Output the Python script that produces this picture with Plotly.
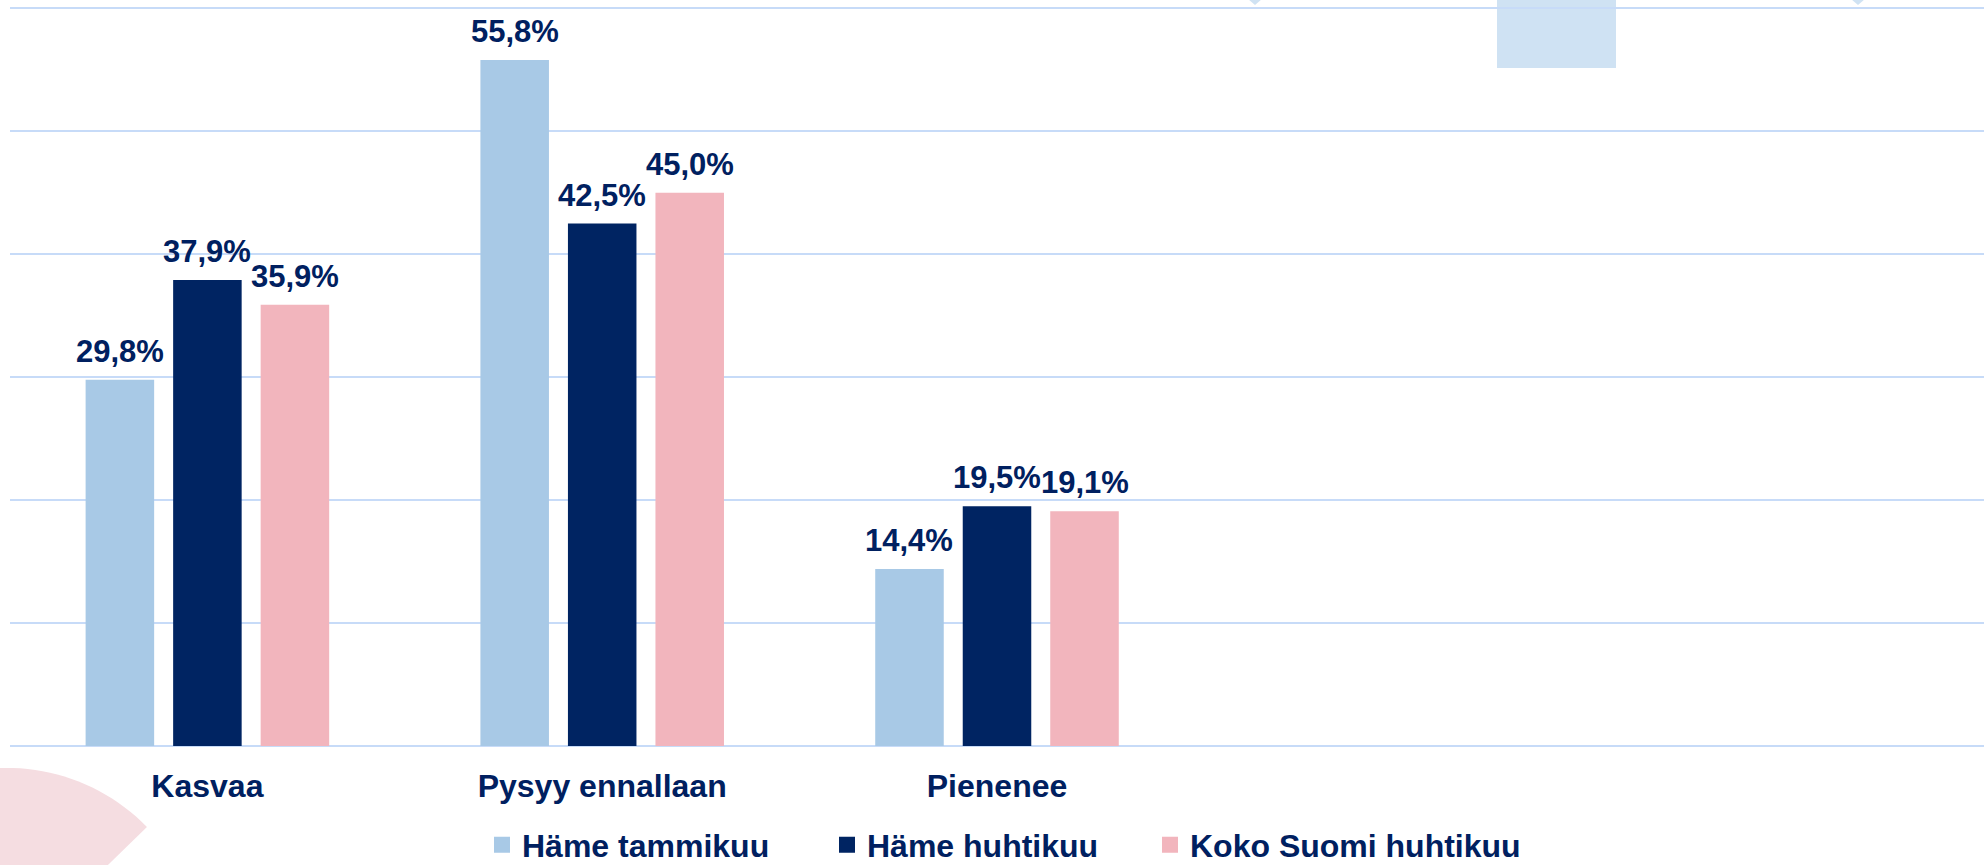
"""Bar chart: expected change, Häme vs whole Finland (percentages)."""

import numpy as np
import plotly.graph_objects as go

# data
categories = ["Kasvaa", "Pysyy ennallaan", "Pienenee"]
series_names = ["Häme tammikuu", "Häme huhtikuu", "Koko Suomi huhtikuu"]
hame_tammikuu = [29.8, 55.8, 14.4]
hame_huhtikuu = [37.9, 42.5, 19.5]
koko_suomi_huhtikuu = [35.9, 45.0, 19.1]
series_values = [hame_tammikuu, hame_huhtikuu, koko_suomi_huhtikuu]

# styles
colors = ["#a8c9e6", "#002462", "#f2b5bd"]
text_color = "#002060"
grid_color = "#c7dbf8"
font_family = "Liberation Sans, Arial, sans-serif"
legend_widths = [300, 278, 330]  # px per legend entry (text part)

W, H = 1984, 865
M_L, M_R, M_T, M_B = 10, 0, 1, 119
BARGAP = 0.335
BARGROUPGAP = 0.217


def px_x(x):
    """pixel x -> paper x"""
    return (x - M_L) / (W - M_L - M_R)


def px_y(y):
    """pixel y -> paper y"""
    return 1 - (y - M_T) / (H - M_T - M_B)


fig = go.Figure()

x_idx = list(range(len(categories)))
for name, vals, col, lw in zip(series_names, series_values, colors,
                               legend_widths):
    fig.add_trace(go.Bar(name=name, x=x_idx, y=vals, marker_color=col,
                         marker_line_width=0, showlegend=False))
    # legend entry with a bigger square than the default bar swatch
    fig.add_trace(go.Scatter(name=name, x=[None], y=[None], mode="markers",
                             legendwidth=lw,
                             marker=dict(symbol="square", size=16, color=col,
                                         line_width=0)))

# value labels above bars
slot = (1 - BARGAP) / len(series_values)
annotations = []
for i, vals in enumerate(series_values):
    off = (i - (len(series_values) - 1) / 2) * slot
    for j, v in enumerate(vals):
        annotations.append(dict(
            x=j + off, y=v, xref="x", yref="y",
            text=f"{v:.1f}%".replace(".", ","),
            showarrow=False, yanchor="bottom", yshift=9,
            font=dict(family=font_family, size=31, color=text_color,
                      weight="bold"),
        ))

# background decorations from the slide
shapes = []
shapes.append(dict(type="rect", xref="paper", yref="paper",
                   x0=px_x(1497), x1=px_x(1616), y0=px_y(68), y1=px_y(-5),
                   fillcolor="#cfe2f3", line_width=0, layer="below"))
for tx in (1255, 1858):
    shapes.append(dict(type="path", xref="paper", yref="paper",
                       path=f"M {px_x(tx - 7)} {px_y(-1)} L {px_x(tx + 7)} {px_y(-1)} "
                            f"L {px_x(tx)} {px_y(5)} Z",
                       fillcolor="#cfe2f3", line_width=0, layer="below"))
cx, cy, r = 6.8, 963.7, 195.8
ang = np.radians(np.linspace(-44.3, -130, 40))
pts = [f"L {px_x(cx + r * np.cos(a))} {px_y(cy + r * np.sin(a))}" for a in ang]
path = f"M {px_x(cx)} {px_y(cy)} " + " ".join(pts) + " Z"
shapes.append(dict(type="path", xref="paper", yref="paper", path=path,
                   fillcolor="#f5dde1", line_width=0, layer="below"))

fig.update_layout(
    width=W, height=H,
    margin=dict(l=M_L, r=M_R, t=M_T, b=M_B, autoexpand=False),
    paper_bgcolor="white", plot_bgcolor="white",
    barmode="group", bargap=BARGAP, bargroupgap=BARGROUPGAP,
    font=dict(family=font_family, color=text_color),
    annotations=annotations, shapes=shapes,
    legend=dict(orientation="h", x=px_x(482), xanchor="left", y=px_y(845),
                yanchor="middle", font=dict(size=32, weight="bold",
                                            color=text_color),
                itemwidth=30, bgcolor="rgba(0,0,0,0)"),
)
fig.update_xaxes(
    range=[-0.5, 4.5], tickvals=x_idx, ticktext=categories,
    showgrid=False, zeroline=False, showline=False, automargin=False,
    ticklabelstandoff=18,
    tickfont=dict(size=32, weight="bold", color=text_color),
)
fig.update_yaxes(
    range=[0, 60.6], dtick=10, showticklabels=False, automargin=False,
    showgrid=True, gridcolor=grid_color, gridwidth=2,
    zeroline=True, zerolinecolor=grid_color, zerolinewidth=2,
)

# drop the default page margin so the figure sits at the window corner
fig.write_html("out.html", config={"displayModeBar": False},
               post_script="document.body.style.margin='0';"
                           "document.body.style.overflow='hidden';")
